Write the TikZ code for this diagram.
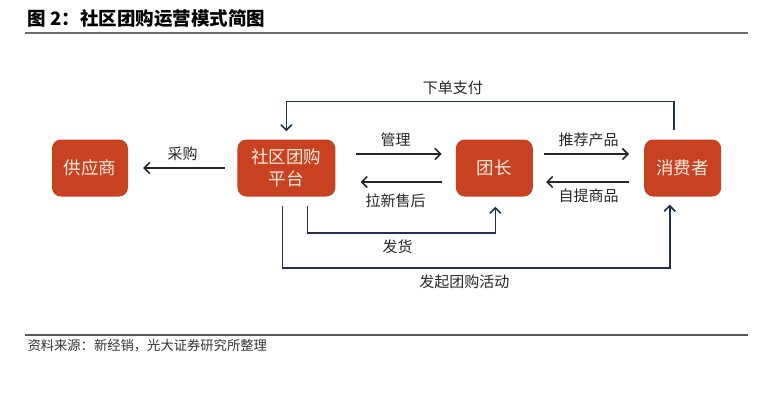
\documentclass[tikz,border=0pt]{standalone}
\usepackage{fontspec}
\setmainfont{Noto Sans CJK SC}
\usepackage{xcolor}
\usepackage{tikz}
\usetikzlibrary{positioning,arrows.meta}
\definecolor{boxred}{RGB}{200,66,33}
\definecolor{boxtext}{RGB}{252,236,226}
\definecolor{linknavy}{RGB}{32,50,78}
\definecolor{rulegray}{RGB}{110,110,110}

\begin{document}
\begin{tikzpicture}[x=1pt,y=-1pt,
box/.style={fill=boxred,rounded corners=9pt,text=boxtext,minimum height=57pt,inner sep=0pt,align=center,font=\fontsize{17.5}{22}\selectfont},
lbl/.style={font=\fontsize{15}{16}\selectfont,inner sep=6pt,text=black!85},
arr/.style={draw=black!85,line width=1.6pt,-{Straight Barb[length=5.5pt,width=11pt]}},
link/.style={draw=linknavy,line width=1.6pt,-{Straight Barb[length=5.5pt,width=11pt]}}
]
\useasboundingbox (0,0) rectangle (770,408);
\node[anchor=west,font=\bfseries\fontsize{18.5}{20}\selectfont] (title) at (24,19) {图 2：社区团购运营模式简图};
\draw[rulegray,line width=2pt] (25,33) -- (748,33);
\node[box,minimum width=76pt] (sup) at (90,168) {供应商};
\node[box,minimum width=98pt,right=109pt of sup] (plat) {社区团购\\平台};
\node[box,minimum width=77pt,right=120pt of plat] (tuan) {团长};
\node[box,minimum width=77pt,right=111pt of tuan] (cons) {消费者};
\draw[arr,shorten <=12pt,shorten >=15pt] (plat) -- node[lbl,above] {采购} (sup);
\draw[arr,shorten <=20pt,shorten >=14pt] ([yshift=14pt]plat.east) -- node[lbl,above] {管理} ([yshift=14pt]tuan.west);
\draw[arr,shorten <=14pt,shorten >=25pt] ([yshift=-14pt]tuan.west) -- node[lbl,below,yshift=-5pt] {拉新售后} ([yshift=-14pt]plat.east);
\draw[arr,shorten <=11pt,shorten >=15pt] ([yshift=14pt]tuan.east) -- node[lbl,above] {推荐产品} ([yshift=14pt]cons.west);
\draw[arr,shorten <=15pt,shorten >=13pt] ([yshift=-14pt]cons.west) -- node[lbl,below] {自提商品} ([yshift=-14pt]tuan.east);
\draw[link] ([xshift=-9pt,yshift=9pt]cons.north) -- ++(0,-29) -| node[lbl,above,pos=0.285] {下单支付} ([yshift=8pt]plat.north);
\draw[link] ([xshift=21pt,yshift=-9pt]plat.south) -- ++(0,27) -| node[lbl,below,pos=0.24] {发货} ([xshift=1pt,yshift=-10pt]tuan.south);
\draw[link] ([xshift=-4pt,yshift=-9pt]plat.south) -- ++(0,62) -| node[lbl,below,pos=0.235] {发起团购活动} ([xshift=-13pt,yshift=-8pt]cons.south);
\draw[rulegray!80!black,line width=1.5pt] (25,335) -- (748,335);
\node[anchor=west,font=\fontsize{13.3}{15}\selectfont,text=black!80] (src) at (24,346) {资料来源：新经销，光大证券研究所整理};
\end{tikzpicture}
\end{document}
